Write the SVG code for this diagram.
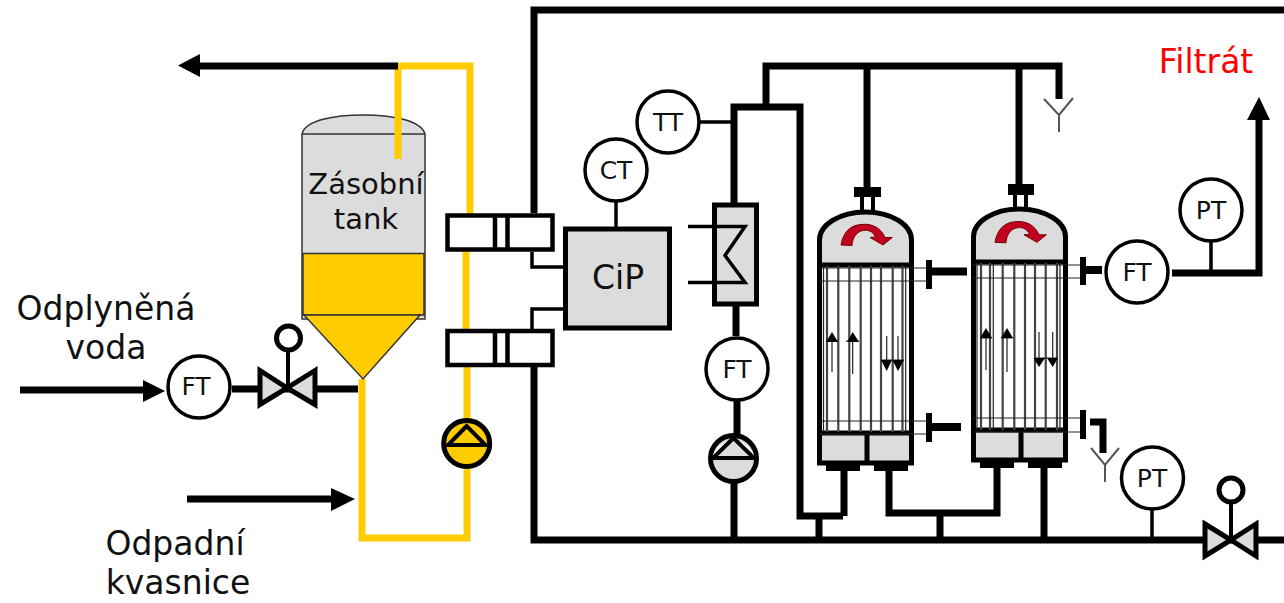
<svg xmlns="http://www.w3.org/2000/svg" width="1284" height="603" viewBox="0 0 1284 603">
<style>
text{font-family:"DejaVu Sans",Verdana,sans-serif;fill:#111;text-anchor:middle}
.lb{font-size:33px}
.tk{font-size:29px}
.ins{font-size:25px}
.p{fill:none;stroke:#000;stroke-width:7}
.y{fill:none;stroke:#fc0;stroke-width:7}
.thin{fill:none;stroke:#000;stroke-width:3.5}
.circ{fill:#fff;stroke:#000;stroke-width:3.500}
.g{fill:#dcdcdc;stroke:#000;stroke-width:5}
.box{fill:#fff;stroke:#000;stroke-width:4.5}
.hair{fill:none;stroke:#333;stroke-width:1.5}
.tube{fill:none;stroke:#444;stroke-width:2.2}
.tube2{fill:none;stroke:#222;stroke-width:1.2}
.ar{fill:#000}
.red{fill:#c0001e;stroke:#700;stroke-width:1}
.ylw{fill:none;stroke:#555;stroke-width:2}
</style>
<defs>
<g id="mod">
<path d="M2.500 254V31A46 28 0 0 1 94.500 31V254Z" fill="#dcdcdc" stroke="#000" stroke-width="5"/>
<rect x="5" y="56" width="87" height="168" fill="#fff"/>
<path d="M2.500 56H94.500M2.500 224H94.500M50 224V254" fill="none" stroke="#000" stroke-width="5"/>
<path d="M9 252h34v10h-34zM57 252h34v10h-34z" fill="#000"/>
</g>
<path id="curl" d="M841 245C843 232 851 225 861 224.500C872 223 881 228 885 237.500L892.300 237.500L883 245L870 237.500L875.500 237C873 231 867 229 861 231C856 233 852.500 238 852 245.500Z"/>
</defs>

<g id="connectors">
<path class="p" d="M534 213V10H1284"/>
<path class="p" d="M534 366V540H1284"/>
<path class="p" d="M734 204V107H800V516H843"/>
<path class="p" d="M766 107V66H1059V99"/>
<path class="p" d="M867 66V188"/>
<path class="p" d="M1019 66V185"/>
<path class="p" d="M844 470V516M819 516V540"/>
<path class="p" d="M889 470V513H997V468M940 513V540"/>
<path class="p" d="M1044 468V540"/>
<path class="p" d="M736 305V336M737 400V438M734 480V540"/>
<path class="p" d="M1172 273H1259V118"/>
<polygon class="ar" points="1259,97 1247,120 1270,120"/>
<path class="thin" d="M1211 242V273M1152 508V540"/>
<path class="thin" d="M616 202V228M700 122H734"/>
<path class="p" d="M1090 422H1103V453"/>
<path class="ylw" d="M1044 99L1059 115L1073 98M1059 115V132M1091 448L1105 465L1119 448M1105 465V482"/>
<path class="y" d="M398 66H470V214M398 66V159"/>
<path class="y" d="M466 246V330M467 366V538H362V379"/>
<path class="p" d="M398 66H196"/>
<polygon class="ar" points="178,65.500 200,54 200,77"/>
<path class="p" d="M232 389H358"/>
<path class="p" d="M20 390H146"/>
<polygon class="ar" points="165,391 143,380 143,402"/>
<path class="p" d="M187 499H335"/>
<polygon class="ar" points="355,499 331,488 331,511"/>
<path class="thin" d="M532 252V267H564M532 329V309H564"/>
</g>

<g id="tank">
<path d="M302 134C305 120 335 115 363 115S421 120 425 134V319H302Z" fill="#dcdcdc" stroke="#333" stroke-width="1.500"/>
<rect x="303" y="253.500" width="121" height="61.500" fill="#fc0" stroke="#333" stroke-width="1.500"/>
<path d="M302 134H425" class="hair"/>
<polygon points="304,315 420,315 363,379" fill="#fc0" stroke="#333" stroke-width="1.500"/>
<path class="y" d="M398 115V159"/>
<text class="tk" x="366" y="194">Zásobní</text>
<text class="tk" x="366" y="229">tank</text>
</g>

<g id="ft-left"><circle class="circ" cx="199" cy="387" r="31"/><text class="ins" x="196" y="395">FT</text></g>

<g id="valve-left">
<path d="M288 389V351" fill="none" stroke="#000" stroke-width="4"/>
<circle cx="288.500" cy="338" r="12" fill="#fff" stroke="#000" stroke-width="5"/>
<polygon points="260,370.500 287,388 260,404.500" fill="#dcdcdc" stroke="#000" stroke-width="5"/>
<polygon points="315,370.500 287,388 315,404.500" fill="#dcdcdc" stroke="#000" stroke-width="5"/>
</g>

<g id="valve-top"><rect class="box" x="447.500" y="215.500" width="105" height="34"/><path d="M495 215V250M507.500 215V250" stroke="#000" stroke-width="4.500"/></g>
<g id="valve-bottom"><rect class="box" x="447.500" y="331" width="105" height="34"/><path d="M495 331V365M507.500 331V365" stroke="#000" stroke-width="4.500"/></g>

<g id="pump-yellow">
<circle cx="466.700" cy="443.500" r="23" fill="#fc0" stroke="#000" stroke-width="5"/>
<polygon points="466.700,426 448,445 485.500,445" fill="#fc0" stroke="#000" stroke-width="4"/>
</g>
<g id="pump-gray">
<circle cx="733.500" cy="458.500" r="23" fill="#dcdcdc" stroke="#000" stroke-width="5"/>
<path d="M712 458A22 22 0 0 1 755 458Z" fill="#fff"/>
<polygon points="733.500,438 713,458 754,458" fill="#dcdcdc" stroke="#000" stroke-width="4"/>
</g>

<g id="cip"><rect class="g" x="565.500" y="229" width="104" height="99"/><text x="618" y="289" style="font-size:33px">CiP</text></g>
<g id="ct"><circle class="circ" cx="616" cy="170" r="31"/><text class="ins" x="616" y="179">CT</text></g>
<g id="tt"><circle class="circ" cx="668" cy="122" r="31"/><text class="ins" x="668" y="131">TT</text></g>

<g id="exchanger">
<rect class="g" x="714.500" y="205" width="42" height="99" stroke-width="4.500"/>
<path class="thin" d="M688 226.500H745L725 255.500L745 282.500H688"/>
</g>
<g id="ft-mid"><circle class="circ" cx="737" cy="369" r="31"/><text class="ins" x="737" y="378">FT</text></g>

<g id="module-1">
<use href="#mod" transform="translate(817 209)"/>
<path class="tube" d="M827 266V432M838.300 266V432M849.300 266V432M860.700 266V432M871 266V432M881 266V432M892.700 266V432M902.500 266V432"/>
<path class="tube2" d="M823.500 266V432M905.700 266V432M819 268H927M819 281H927M819 421H927M819 434H927" stroke-width="1.500"/>
<path d="M862 196V212M873 196V212" stroke="#000" stroke-width="4"/>
<rect x="854" y="187" width="27" height="10"/>
<rect x="926" y="260" width="6" height="29"/><rect x="929" y="267.500" width="38" height="8"/>
<rect x="926" y="413" width="6" height="29"/><rect x="929" y="423" width="32" height="8"/>
<path class="tube2" d="M832 340V372M852.700 340V374M886.700 336V362M898 336V362M826 341H838M846 341H859M882 360H904"/>
<path d="M832 332L826 342H838ZM852.700 332L847 342H859ZM886.700 371L881 360H892ZM898 371L892.500 360H904Z"/>
<use href="#curl" class="red"/>
</g>

<g id="module-2">
<use href="#mod" transform="translate(971 206)"/>
<path class="tube" d="M981 263V430M990 263V430M1002.700 263V430M1014.300 263V430M1025 263V430M1035 263V430M1045.700 263V430M1057 263V430"/>
<path class="tube2" d="M977 263V430M993.300 263V430M1060 263V430M973 265H1083M973 278H1083M973 418H1083M973 432H1083" stroke-width="1.500"/>
<path d="M1015 195V209M1026 195V209" stroke="#000" stroke-width="4"/>
<rect x="1008" y="184" width="26" height="11"/>
<rect x="1080" y="257" width="6" height="28"/><rect x="1083" y="266" width="19" height="8"/>
<rect x="1080" y="410" width="6" height="29"/>
<path class="tube2" d="M986 337V370M1007 337V372M1039 332V358M1052.700 332V358M980 338H992M1001 338H1013M1034 358H1058"/>
<path d="M986 328L980 338H992ZM1007 328L1001 338H1013ZM1039 367L1033.500 358H1045ZM1052.700 367L1047 358H1058Z"/>
<use href="#curl" class="red" transform="translate(154 -2.700)"/>
</g>

<g id="ft-right"><circle class="circ" cx="1137" cy="272" r="31"/><text class="ins" x="1137" y="281">FT</text></g>
<g id="pt-top"><circle class="circ" cx="1211" cy="210" r="31"/><text class="ins" x="1211" y="219">PT</text></g>
<g id="pt-bottom"><circle class="circ" cx="1152.500" cy="478" r="31"/><text class="ins" x="1152" y="487">PT</text></g>

<g id="valve-right">
<path d="M1231 540V502" stroke="#000" stroke-width="4"/>
<circle cx="1231" cy="490" r="12" fill="#fff" stroke="#000" stroke-width="5"/>
<polygon points="1205,524 1231,540 1205,556" fill="#dcdcdc" stroke="#000" stroke-width="5"/>
<polygon points="1256,524 1231,540 1256,556" fill="#dcdcdc" stroke="#000" stroke-width="5"/>
</g>

<g id="labels">
<text class="lb" x="106" y="320">Odplyněná</text>
<text class="lb" x="106" y="359">voda</text>
<text class="lb" x="175" y="555">Odpadní</text>
<text class="lb" x="178" y="594">kvasnice</text>
<text class="lb" x="1206" y="73" style="fill:#f00">Filtrát</text>
</g>
</svg>
